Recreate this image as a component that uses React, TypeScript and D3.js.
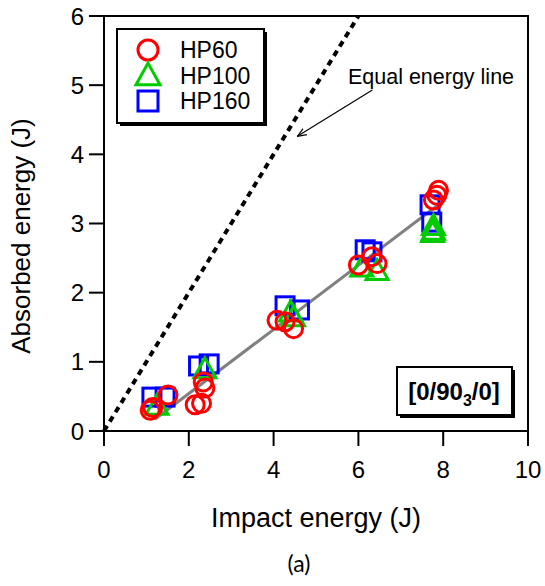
import React from "react";
import * as d3 from "d3";

const xTicks = [0, 2, 4, 6, 8, 10];
const yTicks = [0, 1, 2, 3, 4, 5, 6];

const hp60X = [1.09, 1.15, 1.51, 2.15, 2.34, 2.38, 2.3, 4.08, 4.27, 4.47, 6.0, 6.32, 6.44, 7.77, 7.85, 7.89];
const hp60Y = [0.3, 0.34, 0.52, 0.38, 0.71, 0.62, 0.4, 1.6, 1.58, 1.48, 2.4, 2.52, 2.42, 3.34, 3.41, 3.48];

const hp100X = [1.25, 2.38, 4.47, 4.4, 6.08, 6.44, 7.77, 7.77, 7.75];
const hp100Y = [0.35, 0.88, 1.63, 1.7, 2.35, 2.3, 2.95, 2.88, 2.85];

const hp160X = [1.13, 1.44, 2.23, 2.48, 4.27, 4.61, 6.16, 6.32, 7.69, 7.73];
const hp160Y = [0.49, 0.49, 0.94, 0.97, 1.81, 1.75, 2.62, 2.59, 3.27, 3.02];

const fitX = [1.2, 7.95];
const fitY = [0.17, 3.3];

const equalX = [0, 6];
const equalY = [0, 6];

const arrowFrom = [6.33, 4.93];
const arrowTo = [4.56, 4.26];

const legendLabels = ["HP60", "HP100", "HP160"];

const FONT = "'Liberation Sans', Arial, sans-serif";

export default function App() {
  const x = d3.scaleLinear().domain([0, 10]).range([104, 528]);
  const y = d3.scaleLinear().domain([0, 6]).range([431, 16]);
  const line = d3.line<[number, number]>().x((d) => x(d[0])).y((d) => y(d[1]));

  const R = 9;
  const S = 18;
  const tri = (cx: number, cy: number, s: number) => {
    const h = s * 0.9;
    return `M${cx},${cy - h * 0.62} L${cx + s / 2},${cy + h * 0.38} L${cx - s / 2},${cy + h * 0.38} Z`;
  };

  return (
    <svg width={545} height={586} style={{ position: "absolute", left: 0, top: 0, background: "#fff" }}>
      <defs>
        <marker id="ah" viewBox="0 0 10 10" refX="10" refY="5" markerWidth="9" markerHeight="9" orient="auto-start-reverse" markerUnits="userSpaceOnUse">
          <path d="M0,1 L10,5 L0,9" fill="none" stroke="#000" strokeWidth={1.3} />
        </marker>
      </defs>
      {/* frame */}
      <rect x={x(0)} y={y(6)} width={x(10) - x(0)} height={y(0) - y(6)} fill="none" stroke="#000" strokeWidth={2} />
      {/* ticks */}
      {xTicks.map((t) => (
        <g key={"xt" + t}>
          <line x1={x(t)} x2={x(t)} y1={y(0)} y2={y(0) + 15} stroke="#000" strokeWidth={2} />
          <text x={x(t)} y={y(0) + 47} fontFamily={FONT} fontSize={24} textAnchor="middle">{t}</text>
        </g>
      ))}
      {yTicks.map((t) => (
        <g key={"yt" + t}>
          <line x1={x(0) - 15} x2={x(0)} y1={y(t)} y2={y(t)} stroke="#000" strokeWidth={2} />
          <text x={x(0) - 20} y={y(t) + 8.5} fontFamily={FONT} fontSize={24} textAnchor="end">{t}</text>
        </g>
      ))}
      {/* axis titles */}
      <text x={316} y={527} fontFamily={FONT} fontSize={27} textAnchor="middle">Impact energy (J)</text>
      <text transform={`translate(30,236) rotate(-90)`} fontFamily={FONT} fontSize={26} textAnchor="middle">Absorbed energy (J)</text>
      <text x={299} y={572} fontFamily="Lato, 'Open Sans', sans-serif" fontSize={23} textAnchor="middle">(a)</text>

      {/* equal energy line */}
      <path d={line(equalX.map((v, i) => [v, equalY[i]]) as [number, number][]) || ""} stroke="#000" strokeWidth={4} strokeDasharray="6 5" fill="none" />
      {/* fit line */}
      <path d={line(fitX.map((v, i) => [v, fitY[i]]) as [number, number][]) || ""} stroke="#808080" strokeWidth={3} fill="none" />

      {/* data */}
      {hp160X.map((v, i) => (
        <rect key={"s" + i} x={x(v) - S / 2} y={y(hp160Y[i]) - S / 2} width={S} height={S} fill="none" stroke="#0000ff" strokeWidth={3} />
      ))}
      {hp100X.map((v, i) => (
        <path key={"t" + i} d={tri(x(v), y(hp100Y[i]), 22)} fill="none" stroke="#00cc00" strokeWidth={3} strokeLinejoin="miter" />
      ))}
      {hp60X.map((v, i) => (
        <circle key={"c" + i} cx={x(v)} cy={y(hp60Y[i])} r={R} fill="none" stroke="#ff0000" strokeWidth={3} />
      ))}

      {/* annotation */}
      <text x={431} y={84} fontFamily={FONT} fontSize={21.5} textAnchor="middle">Equal energy line</text>
      <line x1={x(arrowFrom[0])} y1={y(arrowFrom[1])} x2={x(arrowTo[0])} y2={y(arrowTo[1])} stroke="#000" strokeWidth={1.2} markerEnd="url(#ah)" />

      {/* legend */}
      <rect x={120} y={32} width={147} height={94} fill="#000" />
      <rect x={117} y={29} width={147} height={94} fill="#fff" stroke="#000" strokeWidth={2} />
      {legendLabels.map((lab, i) => {
        const cy = 50 + i * 25.5;
        return (
          <g key={lab}>
            {i === 0 && <circle cx={148} cy={cy} r={10} fill="none" stroke="#ff0000" strokeWidth={3} />}
            {i === 1 && <path d={tri(148, cy + 1, 24)} fill="none" stroke="#00cc00" strokeWidth={3} />}
            {i === 2 && <rect x={138} y={cy - 10} width={20} height={20} fill="none" stroke="#0000ff" strokeWidth={3} />}
            <text x={180} y={cy + 8} fontFamily={FONT} fontSize={23}>{lab}</text>
          </g>
        );
      })}

      {/* layup label */}
      <rect x={400} y={370} width={115} height={48} fill="#000" />
      <rect x={397} y={367} width={115} height={48} fill="#fff" stroke="#000" strokeWidth={2} />
      <text x={454} y={400} fontFamily={FONT} fontSize={24} fontWeight="bold" textAnchor="middle">
        [0/90<tspan fontSize={16} dy={6}>3</tspan><tspan dy={-6}>/0]</tspan>
      </text>
    </svg>
  );
}
